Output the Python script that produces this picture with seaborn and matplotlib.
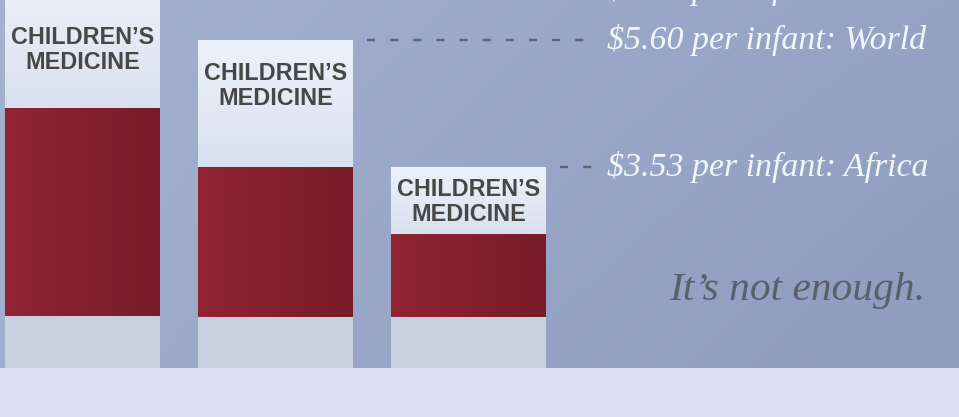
import numpy as np
import matplotlib
matplotlib.use("Agg")
import matplotlib.pyplot as plt
import matplotlib.transforms as mtransforms
from matplotlib.colors import to_rgb
import seaborn as sns

# ---------------- data ----------------
regions = ["Americas", "World", "Africa"]
per_infant = [6.62, 5.60, 3.53]          # total bar height ($ per infant)
red_top = [4.48, 3.53, 2.44]             # top of red band
grey_top = [1.10, 1.09, 1.09]            # top of grey base band
bar_label = "CHILDREN\u2019S\nMEDICINE"
value_labels = ["$6.62 per infant: Americas",
                "$5.60 per infant: World",
                "$3.53 per infant: Africa"]
tagline = "It\u2019s not enough."

# ---------------- layout / style ----------------
W, H = 959, 417
AX_H = 368                       # px height of the blue panel
label_center_px = [50, 86, 202]  # label centres (px from top)
label_nudge_pt = [-9, 0, 0]      # vertical nudge of value labels (points)
BAR_W = 0.803
XLIM = (-0.4275, 4.541)
YLIM = (0.254, 0.254 + AX_H / 61.35)

sns.set_theme(style="white")
fig = plt.figure(figsize=(W / 100, H / 100), dpi=100)
fig.patch.set_facecolor("#dbe0f2")
ax = fig.add_axes([0, (H - AX_H) / H, 1, AX_H / H])
ax.set_axis_off()

def grad2d(tl, tr, bl, br, n=64):
    tl, tr, bl, br = [np.array(to_rgb(c)) for c in (tl, tr, bl, br)]
    u = np.linspace(0, 1, n)[None, :, None]
    v = np.linspace(0, 1, n)[:, None, None]
    top = tl * (1 - u) + tr * u
    bot = bl * (1 - u) + br * u
    return top * (1 - v) + bot * v

# background panel
ax.imshow(grad2d("#a4b1d0", "#95a3c4", "#a0adcc", "#8d9bbd"),
          extent=[XLIM[0], XLIM[1], YLIM[0], YLIM[1]],
          aspect="auto", zorder=0, interpolation="bicubic")

# bars (three stacked layers)
sns.barplot(x=regions, y=per_infant, order=regions, color="#e2e9f4",
            width=BAR_W, saturation=1, linewidth=0, ax=ax, zorder=1)
sns.barplot(x=regions, y=red_top, order=regions, color="#85202e",
            width=BAR_W, saturation=1, linewidth=0, ax=ax, zorder=1)
sns.barplot(x=regions, y=grey_top, order=regions, color="#c8d0de",
            width=BAR_W, saturation=1, linewidth=0, ax=ax, zorder=3)

patches = ax.patches
white_p = patches[:3]
red_p = patches[3:6]
trans = mtransforms.blended_transform_factory(ax.transData, ax.transAxes)

for i in range(3):
    wp, rp = white_p[i], red_p[i]
    x0, w = wp.get_x(), wp.get_width()
    # white label section: vertical gradient
    ax.imshow(grad2d("#ecf2fa", "#ecf2fa", "#d9e1ee", "#d9e1ee"),
              extent=[x0, x0 + w, rp.get_height(), wp.get_height()],
              aspect="auto", zorder=2, interpolation="bicubic")
    # red section: horizontal gradient
    ax.imshow(grad2d("#902433", "#791c29", "#902433", "#791c29"),
              extent=[x0, x0 + w, grey_top[i], rp.get_height()],
              aspect="auto", zorder=2, interpolation="bicubic")
    # label
    ax.text(i, (AX_H - label_center_px[i]) / AX_H, bar_label,
            transform=trans, ha="center", va="center",
            fontsize=16.8, fontweight="bold", color="#474747",
            family=["Liberation Sans", "DejaVu Sans"], linespacing=1.08,
            zorder=5)

# dashed leader lines and value labels
text_x = (607 - 82.5) / 193
for i in range(3):
    x_start = white_p[i].get_x() + BAR_W + 0.07
    ax.plot([x_start, text_x - 0.075], [per_infant[i]] * 2,
            color="#5d6570", lw=1.7, dashes=(3.4, 6.4), zorder=4,
            dash_capstyle="butt")
    tr = mtransforms.offset_copy(ax.transData, fig=fig, x=0,
                                 y=label_nudge_pt[i], units="points")
    ax.text(text_x, per_infant[i], value_labels[i], ha="left", va="center",
            fontsize=24.4, style="italic", color="#f3f5fb",
            family=["Liberation Serif", "DejaVu Serif"], zorder=5,
            transform=tr)

ax.text((925 - 82.5) / 193, YLIM[0] + (AX_H - 300) / 61.35, tagline,
        ha="right", va="baseline", fontsize=29.8, style="italic",
        color="#58606c", family=["Liberation Serif", "DejaVu Serif"], zorder=5)

ax.set_xlim(*XLIM)
ax.set_ylim(*YLIM)
fig.savefig("out.png", dpi=100, facecolor=fig.get_facecolor())
